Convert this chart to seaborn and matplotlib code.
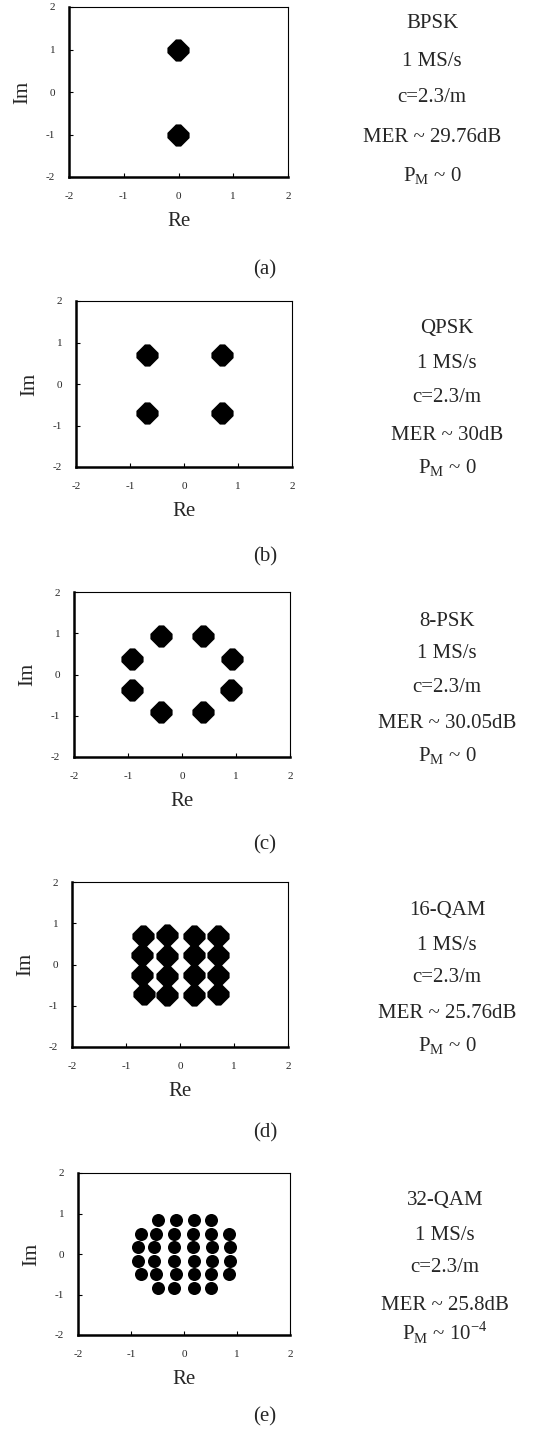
import matplotlib
matplotlib.use("Agg")
import matplotlib.pyplot as plt
import pandas as pd
import seaborn as sns

# constellation cluster centres
bpsk_re = [-0.01, -0.01]
bpsk_im = [1.00, -1.00]

qpsk_re = [-0.69, 0.70, -0.69, 0.70]
qpsk_im = [0.71, 0.71, -0.71, -0.71]

psk8_re = [-0.38, 0.38, -0.92, 0.92, -0.92, 0.90, -0.38, 0.38]
psk8_im = [0.93, 0.93, 0.37, 0.37, -0.37, -0.37, -0.92, -0.92]

qam16_re = [-0.68, -0.24, 0.25, 0.71,
            -0.71, -0.24, 0.25, 0.71,
            -0.71, -0.24, 0.25, 0.71,
            -0.67, -0.24, 0.25, 0.70]
qam16_im = [0.70, 0.72, 0.70, 0.68,
            0.24, 0.21, 0.24, 0.24,
            -0.25, -0.27, -0.25, -0.25,
            -0.71, -0.73, -0.73, -0.71]

qam32_re = [-0.50, -0.16, 0.18, 0.51,
            -0.82, -0.53, -0.19, 0.17, 0.51, 0.84,
            -0.86, -0.56, -0.19, 0.17, 0.53, 0.87,
            -0.86, -0.56, -0.19, 0.18, 0.53, 0.86,
            -0.82, -0.53, -0.16, 0.18, 0.51, 0.84,
            -0.50, -0.18, 0.18, 0.50]
qam32_im = [0.85] * 4 + [0.50] * 6 + [0.18] * 6 + [-0.17] * 6 + [-0.50] * 6 + [-0.85] * 4

schemes = ["BPSK", "QPSK", "8-PSK", "16-QAM", "32-QAM"]
mer_labels = ["29.76dB", "30dB", "30.05dB", "25.76dB", "25.8dB"]
pm_labels = ["0", "0", "0", "0", r"10$^{\mathregular{-4}}$"]
captions = ["(a)", "(b)", "(c)", "(d)", "(e)"]
ticks = [-2, -1, 0, 1, 2]

W, H = 549, 1437

# axes boxes in pixels: left, right, top, bottom
boxes = [(69, 288, 7, 177), (76, 292, 301, 467), (74, 290, 592, 757),
         (72, 288, 882, 1047), (78, 290, 1173, 1335)]
text_x = [432, 447, 447, 447, 445]
text_y = [[24, 62, 97, 138, 176], [328, 363, 397, 435, 468], [622, 654, 688, 723, 756],
          [910, 945, 978, 1013, 1046], [1200, 1235, 1267, 1305, 1333]]
caption_y = [270, 557, 845, 1133, 1417]

sns.set_style("white")
plt.rcParams["font.family"] = ["Liberation Serif", "DejaVu Serif"]
plt.rcParams["mathtext.fontset"] = "custom"
plt.rcParams["mathtext.rm"] = "Liberation Serif"
plt.rcParams["axes.unicode_minus"] = False

blunt_diamond = [(-0.22, 0.95), (0.22, 0.95), (0.95, 0.22), (0.95, -0.22),
                 (0.22, -0.95), (-0.22, -0.95), (-0.95, -0.22), (-0.95, 0.22)]

data = [(bpsk_re, bpsk_im), (qpsk_re, qpsk_im), (psk8_re, psk8_im),
        (qam16_re, qam16_im), (qam32_re, qam32_im)]

fig = plt.figure(figsize=(W / 100, H / 100), dpi=100)

for i, (re, im) in enumerate(data):
    l, r, t, b = boxes[i]
    ax = fig.add_axes([l / W, 1 - b / H, (r - l) / W, (b - t) / H])
    df = pd.DataFrame({"Re": re, "Im": im})
    if i < 4:
        sns.scatterplot(data=df, x="Re", y="Im", ax=ax, marker=blunt_diamond,
                        s=255, color="black", linewidth=0)
    else:
        sns.scatterplot(data=df, x="Re", y="Im", ax=ax, marker="o",
                        s=88, color="black", linewidth=0)
    ax.set_xlim(-2, 2)
    ax.set_ylim(-2, 2)
    ax.set_xticks(ticks)
    ax.set_yticks(ticks)
    ax.tick_params(direction="in", length=3, width=0.8, color="black",
                   labelsize=8, bottom=True, left=True)
    ax.tick_params(axis="x", pad=11)
    ax.tick_params(axis="y", pad=10)
    for side in ["left", "bottom"]:
        ax.spines[side].set_linewidth(1.8)
        ax.spines[side].set_color("black")
    for side in ["top", "right"]:
        ax.spines[side].set_linewidth(0.8)
        ax.spines[side].set_color("black")
    ax.set_xlabel("Re", fontsize=15, labelpad=8)
    ax.set_ylabel("Im", fontsize=15, labelpad=10)

    lines = [schemes[i], "1 MS/s", "c=2.3/m", "MER ~ " + mer_labels[i],
             r"P$_\mathregular{M}$ ~ " + pm_labels[i]]
    for txt, y in zip(lines, text_y[i]):
        fig.text(text_x[i] / W, 1 - y / H, txt, ha="center", va="center", fontsize=15)
    fig.text(265 / W, 1 - caption_y[i] / H, captions[i], ha="center", va="center", fontsize=15)

fig.savefig("out.png", dpi=100)
